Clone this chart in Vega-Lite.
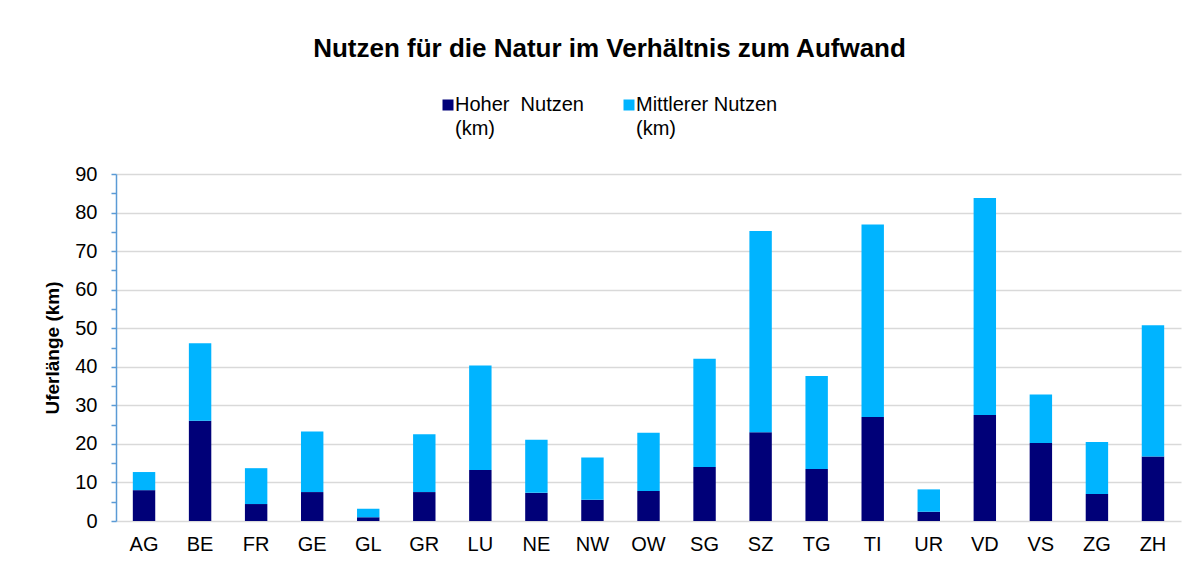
{
  "$schema": "https://vega.github.io/schema/vega-lite/v6.json",
  "autosize": {"type": "none"},
  "width": 1065,
  "height": 347,
  "padding": {"left": 116, "top": 174, "right": 16, "bottom": 45},
  "background": "white",
  "title": {
    "text": "Nutzen für die Natur im Verhältnis zum Aufwand",
    "font": "Liberation Sans",
    "fontSize": 26,
    "fontWeight": "bold",
    "color": "#000000",
    "anchor": "middle",
    "frame": "group",
    "dx": -39,
    "offset": 33
  },
  "data": {
    "values": [
      {"Kanton": "AG", "Kategorie": "Hoher\u00a0 Nutzen (km)", "km": 8.0},
      {"Kanton": "AG", "Kategorie": "Mittlerer Nutzen (km)", "km": 4.7},
      {"Kanton": "BE", "Kategorie": "Hoher\u00a0 Nutzen (km)", "km": 26.0},
      {"Kanton": "BE", "Kategorie": "Mittlerer Nutzen (km)", "km": 20.1},
      {"Kanton": "FR", "Kategorie": "Hoher\u00a0 Nutzen (km)", "km": 4.4},
      {"Kanton": "FR", "Kategorie": "Mittlerer Nutzen (km)", "km": 9.3},
      {"Kanton": "GE", "Kategorie": "Hoher\u00a0 Nutzen (km)", "km": 7.5},
      {"Kanton": "GE", "Kategorie": "Mittlerer Nutzen (km)", "km": 15.7},
      {"Kanton": "GL", "Kategorie": "Hoher\u00a0 Nutzen (km)", "km": 1.0},
      {"Kanton": "GL", "Kategorie": "Mittlerer Nutzen (km)", "km": 2.2},
      {"Kanton": "GR", "Kategorie": "Hoher\u00a0 Nutzen (km)", "km": 7.5},
      {"Kanton": "GR", "Kategorie": "Mittlerer Nutzen (km)", "km": 15.0},
      {"Kanton": "LU", "Kategorie": "Hoher\u00a0 Nutzen (km)", "km": 13.2},
      {"Kanton": "LU", "Kategorie": "Mittlerer Nutzen (km)", "km": 27.1},
      {"Kanton": "NE", "Kategorie": "Hoher\u00a0 Nutzen (km)", "km": 7.3},
      {"Kanton": "NE", "Kategorie": "Mittlerer Nutzen (km)", "km": 13.8},
      {"Kanton": "NW", "Kategorie": "Hoher\u00a0 Nutzen (km)", "km": 5.5},
      {"Kanton": "NW", "Kategorie": "Mittlerer Nutzen (km)", "km": 11.0},
      {"Kanton": "OW", "Kategorie": "Hoher\u00a0 Nutzen (km)", "km": 7.8},
      {"Kanton": "OW", "Kategorie": "Mittlerer Nutzen (km)", "km": 15.1},
      {"Kanton": "SG", "Kategorie": "Hoher\u00a0 Nutzen (km)", "km": 14.0},
      {"Kanton": "SG", "Kategorie": "Mittlerer Nutzen (km)", "km": 28.1},
      {"Kanton": "SZ", "Kategorie": "Hoher\u00a0 Nutzen (km)", "km": 23.0},
      {"Kanton": "SZ", "Kategorie": "Mittlerer Nutzen (km)", "km": 52.2},
      {"Kanton": "TG", "Kategorie": "Hoher\u00a0 Nutzen (km)", "km": 13.5},
      {"Kanton": "TG", "Kategorie": "Mittlerer Nutzen (km)", "km": 24.1},
      {"Kanton": "TI", "Kategorie": "Hoher\u00a0 Nutzen (km)", "km": 27.0},
      {"Kanton": "TI", "Kategorie": "Mittlerer Nutzen (km)", "km": 49.9},
      {"Kanton": "UR", "Kategorie": "Hoher\u00a0 Nutzen (km)", "km": 2.4},
      {"Kanton": "UR", "Kategorie": "Mittlerer Nutzen (km)", "km": 5.8},
      {"Kanton": "VD", "Kategorie": "Hoher\u00a0 Nutzen (km)", "km": 27.5},
      {"Kanton": "VD", "Kategorie": "Mittlerer Nutzen (km)", "km": 56.3},
      {"Kanton": "VS", "Kategorie": "Hoher\u00a0 Nutzen (km)", "km": 20.2},
      {"Kanton": "VS", "Kategorie": "Mittlerer Nutzen (km)", "km": 12.6},
      {"Kanton": "ZG", "Kategorie": "Hoher\u00a0 Nutzen (km)", "km": 7.0},
      {"Kanton": "ZG", "Kategorie": "Mittlerer Nutzen (km)", "km": 13.5},
      {"Kanton": "ZH", "Kategorie": "Hoher\u00a0 Nutzen (km)", "km": 16.7},
      {"Kanton": "ZH", "Kategorie": "Mittlerer Nutzen (km)", "km": 34.1}
    ]
  },
  "mark": {"type": "bar"},
  "encoding": {
    "x": {
      "field": "Kanton",
      "type": "nominal",
      "sort": null,
      "scale": {"paddingInner": 0.6, "paddingOuter": 0.3},
      "axis": {
        "title": null,
        "labelAngle": 0,
        "labelFontSize": 20,
        "labelFont": "Liberation Sans",
        "labelColor": "#000000",
        "labelPadding": 13,
        "ticks": false,
        "domain": false,
        "grid": false
      }
    },
    "y": {
      "field": "km",
      "type": "quantitative",
      "stack": "zero",
      "scale": {"domain": [0, 90], "nice": false},
      "axis": {
        "title": "Uferlänge (km)",
        "titleFont": "Liberation Sans",
        "titleFontSize": 19,
        "titleFontWeight": "bold",
        "titleColor": "#000000",
        "titlePadding": 12,
        "values": [0, 5, 10, 15, 20, 25, 30, 35, 40, 45, 50, 55, 60, 65, 70, 75, 80, 85, 90],
        "labelExpr": "datum.value % 10 == 0 ? datum.label : ''",
        "labelFont": "Liberation Sans",
        "labelFontSize": 20,
        "labelColor": "#000000",
        "labelPadding": 14,
        "domainColor": "#5B9BD5",
        "domainWidth": 1.5,
        "tickColor": "#5B9BD5",
        "tickWidth": 1.5,
        "tickSize": 5,
        "grid": true,
        "gridWidth": 1.5,
        "gridColor": {"condition": {"test": "datum.value % 10 != 0", "value": "transparent"}, "value": "#D9D9D9"}
      }
    },
    "color": {
      "field": "Kategorie",
      "type": "nominal",
      "scale": {
        "domain": ["Hoher\u00a0 Nutzen (km)", "Mittlerer Nutzen (km)"],
        "range": ["#000078", "#00B4FF"]
      },
      "legend": {
        "title": null,
        "orient": "none",
        "direction": "horizontal",
        "legendX": 322,
        "legendY": -79,
        "symbolType": "square",
        "symbolSize": 121,
        "symbolStrokeWidth": 0,
        "labelFont": "Liberation Sans",
        "labelFontSize": 20,
        "labelColor": "#000000",
        "labelOffset": -3,
        "columnPadding": 35,
        "labelLimit": 300,
        "labelExpr": "[replace(datum.label, ' (km)', ''), '(km)']",
        "encode": {
          "labels": {"update": {"lineHeight": {"value": 24}, "dy": {"value": 0}}}
        }
      }
    },
    "order": {"field": "Kategorie", "type": "nominal", "sort": "ascending"}
  },
  "config": {
    "view": {"stroke": null}
  }
}
